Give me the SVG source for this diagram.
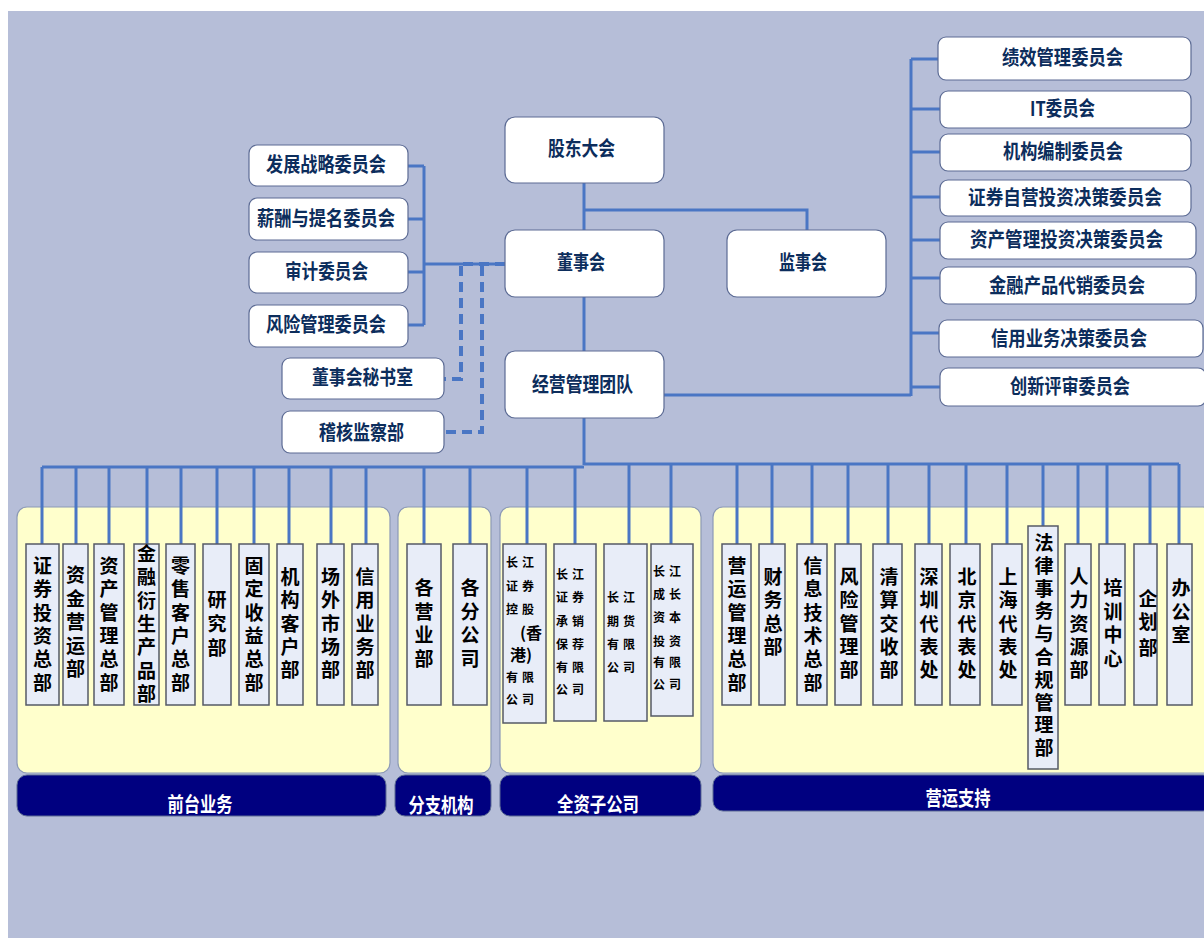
<svg xmlns="http://www.w3.org/2000/svg" width="1204" height="938" viewBox="0 0 1204 938">
<style>
.node rect{fill:#ffffff;stroke:#5c6b94;stroke-width:1.2}
.lbl{font-family:"Noto Sans CJK SC","Noto Sans",sans-serif;font-weight:bold;font-size:20px;fill:#0c2d5c;text-anchor:middle}
.panel{fill:#ffffcc;stroke:#8c99b6;stroke-width:1.2}
.band{fill:#000080;stroke:#5c6b94;stroke-width:1}
.bandt{font-family:"Noto Sans CJK SC","Noto Sans",sans-serif;font-weight:bold;font-size:20px;fill:#ffffff;text-anchor:middle}
.dept rect{fill:#e8edf8;stroke:#555a66;stroke-width:1.5}
.dt{font-family:"Noto Sans CJK SC","Noto Sans",sans-serif;font-weight:bold;font-size:19px;fill:#000000;text-anchor:middle}
.st{font-family:"Noto Sans CJK SC","Noto Sans",sans-serif;font-weight:bold;font-size:12px;fill:#000000;text-anchor:middle}
.sb{font-family:"Noto Sans CJK SC","Noto Sans",sans-serif;font-weight:bold;font-size:16px;fill:#000000;text-anchor:middle}
.ln{fill:none;stroke:#4a76c4;stroke-width:3}
.dash{fill:none;stroke:#4a76c4;stroke-width:4;stroke-dasharray:10 6}
</style>
<rect x="0" y="0" width="1204" height="938" fill="#ffffff"/>
<rect x="8" y="11" width="1196" height="927" fill="#b6bed8"/>

<g id="panels">
<rect class="panel" x="17" y="507" width="373" height="266" rx="10"/>
<rect class="band" x="17" y="775" width="369" height="41" rx="10"/>
<text class="bandt" x="200" y="812" textLength="65" lengthAdjust="spacingAndGlyphs">前台业务</text>
<rect class="panel" x="398" y="507" width="93" height="266" rx="10"/>
<rect class="band" x="395" y="775" width="96" height="41" rx="10"/>
<text class="bandt" x="441" y="813" textLength="65" lengthAdjust="spacingAndGlyphs">分支机构</text>
<rect class="panel" x="500" y="507" width="201" height="266" rx="10"/>
<rect class="band" x="500" y="775" width="201" height="41" rx="10"/>
<text class="bandt" x="598" y="812" textLength="82" lengthAdjust="spacingAndGlyphs">全资子公司</text>
<rect class="panel" x="713" y="507" width="500" height="266" rx="10"/>
<rect class="band" x="713" y="775" width="500" height="36" rx="10"/>
<text class="bandt" x="958" y="806" textLength="65" lengthAdjust="spacingAndGlyphs">营运支持</text>
</g>

<g id="connectors">
<path class="ln" d="M584,183 V230 M584,210 H807 V230 M584,297 V351 M584,418 V465"/>
<path class="ln" d="M664,395 H911 M911,59 V396 M911,59 H938 M911,109 H940 M911,152 H940 M911,197 H940 M911,240 H940 M911,278 H940 M911,333 H940 M911,387 H940"/>
<path class="ln" d="M424,166 V325 M408,166 H424 M408,219 H424 M408,272 H424 M408,325 H424 M424,264 H505"/>
<path class="dash" d="M461,266 V379 H444 M482,266 V432 H444 M463,264 H505"/>
<path class="ln" d="M42,467 H584 M584,464 H1179"/>
<path class="ln" d="M42,467 V544 M76,467 V544 M109,467 V544 M147,467 V544 M181,467 V544 M217,467 V544 M254,467 V544 M289,467 V544 M331,467 V544 M366,467 V544 M424,467 V544 M470,467 V544 M527,467 V544 M575,467 V544"/>
<path class="ln" d="M629,464 V544 M671,464 V544 M737,464 V544 M772,464 V544 M812,464 V544 M848,464 V544 M888,464 V544 M929,464 V544 M966,464 V544 M1007,464 V544 M1043,464 V526 M1078,464 V544 M1107,464 V544 M1150,464 V544 M1179,464 V544"/>
</g>

<g id="gudong" class="node"><rect x="505" y="117" width="159" height="66" rx="10"/><text class="lbl" x="581.5" y="156" textLength="67" lengthAdjust="spacingAndGlyphs">股东大会</text></g>
<g id="dongshi" class="node"><rect x="505" y="230" width="159" height="67" rx="10"/><text class="lbl" x="581" y="270" textLength="48" lengthAdjust="spacingAndGlyphs">董事会</text></g>
<g id="jianshi" class="node"><rect x="727" y="230" width="159" height="67" rx="10"/><text class="lbl" x="803" y="270" textLength="48" lengthAdjust="spacingAndGlyphs">监事会</text></g>
<g id="jingying" class="node"><rect x="505" y="351" width="159" height="67" rx="10"/><text class="lbl" x="582.5" y="392" textLength="101" lengthAdjust="spacingAndGlyphs">经营管理团队</text></g>

<g id="c-fazhan" class="node"><rect x="249" y="145" width="159" height="41" rx="8"/><text class="lbl" x="326" y="172" textLength="120" lengthAdjust="spacingAndGlyphs">发展战略委员会</text></g>
<g id="c-xinchou" class="node"><rect x="249" y="198" width="159" height="42" rx="8"/><text class="lbl" x="326" y="226" textLength="138" lengthAdjust="spacingAndGlyphs">薪酬与提名委员会</text></g>
<g id="c-shenji" class="node"><rect x="249" y="252" width="159" height="41" rx="8"/><text class="lbl" x="326.5" y="279" textLength="83" lengthAdjust="spacingAndGlyphs">审计委员会</text></g>
<g id="c-fengxian" class="node"><rect x="249" y="305" width="159" height="42" rx="8"/><text class="lbl" x="326" y="332" textLength="120" lengthAdjust="spacingAndGlyphs">风险管理委员会</text></g>
<g id="mishu" class="node"><rect x="282" y="358" width="162" height="41" rx="8"/><text class="lbl" x="362.5" y="385" textLength="101" lengthAdjust="spacingAndGlyphs">董事会秘书室</text></g>
<g id="jihe" class="node"><rect x="282" y="411" width="162" height="42" rx="8"/><text class="lbl" x="361.5" y="440" textLength="85" lengthAdjust="spacingAndGlyphs">稽核监察部</text></g>

<g id="r-jixiao" class="node"><rect x="938" y="37" width="253" height="43" rx="8"/><text class="lbl" x="1062.5" y="65" textLength="121" lengthAdjust="spacingAndGlyphs">绩效管理委员会</text></g>
<g id="r-it" class="node"><rect x="940" y="91" width="251" height="37" rx="8"/><text class="lbl" x="1062.5" y="116" textLength="65" lengthAdjust="spacingAndGlyphs">IT委员会</text></g>
<g id="r-jigou" class="node"><rect x="940" y="134" width="251" height="37" rx="8"/><text class="lbl" x="1063" y="159" textLength="120" lengthAdjust="spacingAndGlyphs">机构编制委员会</text></g>
<g id="r-zhengquan" class="node"><rect x="940" y="180" width="251" height="36" rx="8"/><text class="lbl" x="1065" y="205" textLength="194" lengthAdjust="spacingAndGlyphs">证券自营投资决策委员会</text></g>
<g id="r-zichan" class="node"><rect x="940" y="222" width="256" height="37" rx="8"/><text class="lbl" x="1066.5" y="247" textLength="193" lengthAdjust="spacingAndGlyphs">资产管理投资决策委员会</text></g>
<g id="r-jinrong" class="node"><rect x="940" y="267" width="256" height="37" rx="8"/><text class="lbl" x="1067" y="293" textLength="156" lengthAdjust="spacingAndGlyphs">金融产品代销委员会</text></g>
<g id="r-xinyong" class="node"><rect x="939" y="320" width="264" height="37" rx="8"/><text class="lbl" x="1069" y="346" textLength="156" lengthAdjust="spacingAndGlyphs">信用业务决策委员会</text></g>
<g id="r-chuangxin" class="node"><rect x="940" y="368" width="266" height="38" rx="8"/><text class="lbl" x="1070" y="394" textLength="120" lengthAdjust="spacingAndGlyphs">创新评审委员会</text></g>

<!-- front office departments -->
<g id="d1" class="dept"><rect x="26" y="544" width="33" height="161"/><text class="dt"><tspan x="42.5" y="573">证</tspan><tspan x="42.5" y="596.3">券</tspan><tspan x="42.5" y="619.6">投</tspan><tspan x="42.5" y="642.9">资</tspan><tspan x="42.5" y="666.2">总</tspan><tspan x="42.5" y="689.5">部</tspan></text></g>
<g id="d2" class="dept"><rect x="63" y="544" width="25" height="161"/><text class="dt"><tspan x="75.5" y="582">资</tspan><tspan x="75.5" y="605.5">金</tspan><tspan x="75.5" y="629">营</tspan><tspan x="75.5" y="652.5">运</tspan><tspan x="75.5" y="676">部</tspan></text></g>
<g id="d3" class="dept"><rect x="94" y="544" width="30" height="161"/><text class="dt"><tspan x="109" y="573">资</tspan><tspan x="109" y="596.3">产</tspan><tspan x="109" y="619.6">管</tspan><tspan x="109" y="642.9">理</tspan><tspan x="109" y="666.2">总</tspan><tspan x="109" y="689.5">部</tspan></text></g>
<g id="d4" class="dept"><rect x="134" y="544" width="25" height="161"/><text class="dt"><tspan x="146.5" y="561">金</tspan><tspan x="146.5" y="584.3">融</tspan><tspan x="146.5" y="607.6">衍</tspan><tspan x="146.5" y="630.9">生</tspan><tspan x="146.5" y="654.2">产</tspan><tspan x="146.5" y="677.5">品</tspan><tspan x="146.5" y="700.8">部</tspan></text></g>
<g id="d5" class="dept"><rect x="166" y="544" width="29" height="161"/><text class="dt"><tspan x="180.5" y="573">零</tspan><tspan x="180.5" y="596.3">售</tspan><tspan x="180.5" y="619.6">客</tspan><tspan x="180.5" y="642.9">户</tspan><tspan x="180.5" y="666.2">总</tspan><tspan x="180.5" y="689.5">部</tspan></text></g>
<g id="d6" class="dept"><rect x="203" y="544" width="28" height="161"/><text class="dt"><tspan x="217" y="607">研</tspan><tspan x="217" y="631">究</tspan><tspan x="217" y="655">部</tspan></text></g>
<g id="d7" class="dept"><rect x="239" y="544" width="30" height="161"/><text class="dt"><tspan x="254" y="573">固</tspan><tspan x="254" y="596.3">定</tspan><tspan x="254" y="619.6">收</tspan><tspan x="254" y="642.9">益</tspan><tspan x="254" y="666.2">总</tspan><tspan x="254" y="689.5">部</tspan></text></g>
<g id="d8" class="dept"><rect x="277" y="544" width="26" height="161"/><text class="dt"><tspan x="290" y="584">机</tspan><tspan x="290" y="607.3">构</tspan><tspan x="290" y="630.6">客</tspan><tspan x="290" y="653.9">户</tspan><tspan x="290" y="677.2">部</tspan></text></g>
<g id="d9" class="dept"><rect x="317" y="544" width="27" height="161"/><text class="dt"><tspan x="330.5" y="584">场</tspan><tspan x="330.5" y="607.3">外</tspan><tspan x="330.5" y="630.6">市</tspan><tspan x="330.5" y="653.9">场</tspan><tspan x="330.5" y="677.2">部</tspan></text></g>
<g id="d10" class="dept"><rect x="352" y="544" width="26" height="161"/><text class="dt"><tspan x="365" y="584">信</tspan><tspan x="365" y="607.3">用</tspan><tspan x="365" y="630.6">业</tspan><tspan x="365" y="653.9">务</tspan><tspan x="365" y="677.2">部</tspan></text></g>

<!-- branches -->
<g id="b1" class="dept"><rect x="407" y="544" width="34" height="161"/><text class="dt"><tspan x="424" y="595">各</tspan><tspan x="424" y="618.7">营</tspan><tspan x="424" y="642.4">业</tspan><tspan x="424" y="666">部</tspan></text></g>
<g id="b2" class="dept"><rect x="453" y="544" width="34" height="161"/><text class="dt"><tspan x="470" y="595">各</tspan><tspan x="470" y="618.7">分</tspan><tspan x="470" y="642.4">公</tspan><tspan x="470" y="666">司</tspan></text></g>

<!-- subsidiaries -->
<g id="s1" class="dept"><rect x="503" y="544" width="43" height="179"/>
<text class="st"><tspan x="512" y="567">长</tspan><tspan x="528" y="567">江</tspan><tspan x="512" y="591">证</tspan><tspan x="528" y="591">券</tspan><tspan x="512" y="614">控</tspan><tspan x="528" y="614">股</tspan><tspan x="512" y="682">有</tspan><tspan x="528" y="682">限</tspan><tspan x="512" y="704">公</tspan><tspan x="528" y="704">司</tspan></text>
<text class="sb"><tspan x="531" y="639">(香</tspan><tspan x="521" y="661">港)</tspan></text></g>
<g id="s2" class="dept"><rect x="554" y="544" width="42" height="177"/>
<text class="st"><tspan x="562" y="579">长</tspan><tspan x="578" y="579">江</tspan><tspan x="562" y="602">证</tspan><tspan x="578" y="602">券</tspan><tspan x="562" y="626">承</tspan><tspan x="578" y="626">销</tspan><tspan x="562" y="649">保</tspan><tspan x="578" y="649">荐</tspan><tspan x="562" y="672">有</tspan><tspan x="578" y="672">限</tspan><tspan x="562" y="694">公</tspan><tspan x="578" y="694">司</tspan></text></g>
<g id="s3" class="dept"><rect x="604" y="544" width="43" height="177"/>
<text class="st"><tspan x="613" y="602">长</tspan><tspan x="629" y="602">江</tspan><tspan x="613" y="626">期</tspan><tspan x="629" y="626">货</tspan><tspan x="613" y="649">有</tspan><tspan x="629" y="649">限</tspan><tspan x="613" y="672">公</tspan><tspan x="629" y="672">司</tspan></text></g>
<g id="s4" class="dept"><rect x="651" y="544" width="42" height="172"/>
<text class="st"><tspan x="659" y="576">长</tspan><tspan x="675" y="576">江</tspan><tspan x="659" y="599">成</tspan><tspan x="675" y="599">长</tspan><tspan x="659" y="622">资</tspan><tspan x="675" y="622">本</tspan><tspan x="659" y="646">投</tspan><tspan x="675" y="646">资</tspan><tspan x="659" y="667">有</tspan><tspan x="675" y="667">限</tspan><tspan x="659" y="689">公</tspan><tspan x="675" y="689">司</tspan></text></g>

<!-- operations support -->
<g id="o1" class="dept"><rect x="722" y="544" width="29" height="161"/><text class="dt"><tspan x="737" y="573">营</tspan><tspan x="737" y="596.3">运</tspan><tspan x="737" y="619.6">管</tspan><tspan x="737" y="642.9">理</tspan><tspan x="737" y="666.2">总</tspan><tspan x="737" y="689.5">部</tspan></text></g>
<g id="o2" class="dept"><rect x="759" y="544" width="26" height="161"/><text class="dt"><tspan x="773" y="584">财</tspan><tspan x="773" y="607.3">务</tspan><tspan x="773" y="630.6">总</tspan><tspan x="773" y="654">部</tspan></text></g>
<g id="o3" class="dept"><rect x="797" y="544" width="30" height="161"/><text class="dt"><tspan x="813" y="573">信</tspan><tspan x="813" y="596.3">息</tspan><tspan x="813" y="619.6">技</tspan><tspan x="813" y="642.9">术</tspan><tspan x="813" y="666.2">总</tspan><tspan x="813" y="689.5">部</tspan></text></g>
<g id="o4" class="dept"><rect x="835" y="544" width="26" height="161"/><text class="dt"><tspan x="849" y="584">风</tspan><tspan x="849" y="607.3">险</tspan><tspan x="849" y="630.6">管</tspan><tspan x="849" y="653.9">理</tspan><tspan x="849" y="677.2">部</tspan></text></g>
<g id="o5" class="dept"><rect x="873" y="544" width="29" height="161"/><text class="dt"><tspan x="889" y="584">清</tspan><tspan x="889" y="607.3">算</tspan><tspan x="889" y="630.6">交</tspan><tspan x="889" y="653.9">收</tspan><tspan x="889" y="677.2">部</tspan></text></g>
<g id="o6" class="dept"><rect x="915" y="544" width="27" height="161"/><text class="dt"><tspan x="929" y="584">深</tspan><tspan x="929" y="607.3">圳</tspan><tspan x="929" y="630.6">代</tspan><tspan x="929" y="653.9">表</tspan><tspan x="929" y="677.2">处</tspan></text></g>
<g id="o7" class="dept"><rect x="950" y="544" width="30" height="161"/><text class="dt"><tspan x="967" y="584">北</tspan><tspan x="967" y="607.3">京</tspan><tspan x="967" y="630.6">代</tspan><tspan x="967" y="653.9">表</tspan><tspan x="967" y="677.2">处</tspan></text></g>
<g id="o8" class="dept"><rect x="992" y="544" width="30" height="161"/><text class="dt"><tspan x="1008" y="584">上</tspan><tspan x="1008" y="607.3">海</tspan><tspan x="1008" y="630.6">代</tspan><tspan x="1008" y="653.9">表</tspan><tspan x="1008" y="677.2">处</tspan></text></g>
<g id="o9" class="dept"><rect x="1028" y="526" width="30" height="243"/><text class="dt"><tspan x="1044" y="550">法</tspan><tspan x="1044" y="572.8">律</tspan><tspan x="1044" y="595.6">事</tspan><tspan x="1044" y="618.4">务</tspan><tspan x="1044" y="641.2">与</tspan><tspan x="1044" y="664">合</tspan><tspan x="1044" y="686.8">规</tspan><tspan x="1044" y="709.6">管</tspan><tspan x="1044" y="732.4">理</tspan><tspan x="1044" y="755.2">部</tspan></text></g>
<g id="o10" class="dept"><rect x="1065" y="544" width="26" height="161"/><text class="dt"><tspan x="1079" y="584">人</tspan><tspan x="1079" y="607.3">力</tspan><tspan x="1079" y="630.6">资</tspan><tspan x="1079" y="653.9">源</tspan><tspan x="1079" y="677.2">部</tspan></text></g>
<g id="o11" class="dept"><rect x="1099" y="544" width="26" height="161"/><text class="dt"><tspan x="1113" y="595">培</tspan><tspan x="1113" y="618.7">训</tspan><tspan x="1113" y="642.4">中</tspan><tspan x="1113" y="666">心</tspan></text></g>
<g id="o12" class="dept"><rect x="1134" y="544" width="23" height="161"/><text class="dt"><tspan x="1148" y="606">企</tspan><tspan x="1148" y="629">划</tspan><tspan x="1148" y="655">部</tspan></text></g>
<g id="o13" class="dept"><rect x="1167" y="544" width="25" height="161"/><text class="dt"><tspan x="1181" y="595">办</tspan><tspan x="1181" y="619">公</tspan><tspan x="1181" y="642">室</tspan></text></g>
</svg>
